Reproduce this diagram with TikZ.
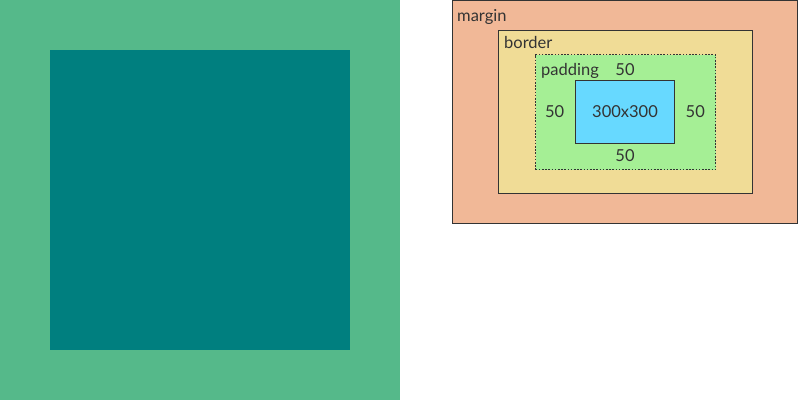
\documentclass[tikz,border=0pt]{standalone}
\usepackage{fontspec}
\setmainfont{Lato}
\usepackage{tikz}
\usetikzlibrary{positioning}
\definecolor{outer}{HTML}{55B98A}
\definecolor{inner}{HTML}{007F7F}
\definecolor{marg}{HTML}{F1B897}
\definecolor{bord}{HTML}{F0DC96}
\definecolor{padd}{HTML}{A5EF95}
\definecolor{cont}{HTML}{67D9FF}
\definecolor{ink}{HTML}{333333}

\begin{document}
\begin{tikzpicture}[x=1pt,y=-1pt,
  area/.style={draw=ink,line width=0.9pt,anchor=north west,inner sep=0pt,outer sep=0pt},
  lbl/.style={text=ink,font=\fontsize{16.5}{19}\selectfont,inner sep=0pt},
  num/.style={lbl}]
\useasboundingbox (0,0) rectangle (798,400);
% left: plain square in its surround
\fill[outer] (0,0) rectangle (400,400);
\fill[inner] (50,50) rectangle (350,350);
% right: the nested box model
\node[area,fill=marg,minimum width=345pt,minimum height=223pt] (margin) at (452.5,0.5) {};
\node[area,fill=bord,minimum width=254pt,minimum height=163pt] (border) at (498.5,30.5) {};
\node[area,fill=padd,draw=ink,dash pattern=on 1.6pt off 1.6pt,line width=0.8pt,
  minimum width=180pt,minimum height=115pt] (padding) at (535.5,54.5) {};
\node[area,fill=cont,minimum width=99pt,minimum height=63pt] (content) at (575.5,80.5) {};
\node[lbl,anchor=base west] (mlabel) at (457,21) {margin};
\node[lbl,anchor=base west] (blabel) at (504,48) {border};
\node[lbl,anchor=base west] (plabel) at (541,75) {padding};
\node[lbl] (size) at (content.center) {300x300};
\node[num,anchor=base] (ptop) at (625,75) {50};
\node[num,left=11pt of content] (pleft) {50};
\node[num,right=11pt of content] (pright) {50};
\node[num,anchor=base] (pbottom) at (625,161) {50};
\end{tikzpicture}
\end{document}
